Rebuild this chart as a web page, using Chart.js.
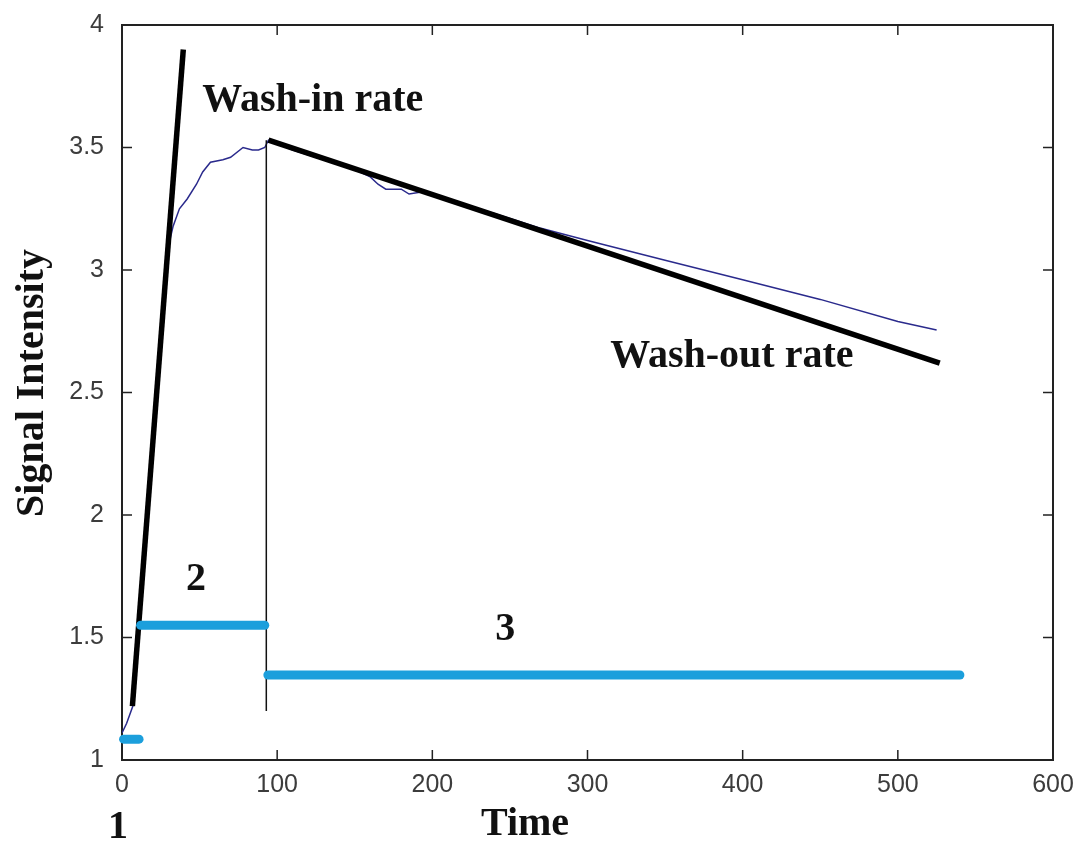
<!DOCTYPE html>
<html>
<head>
<meta charset="utf-8">
<script src="https://cdn.jsdelivr.net/npm/chart.js@4.4.1/dist/chart.umd.min.js"></script>
<style>
  html, body { margin: 0; padding: 0; background: #fff; }
  #wrap { width: 1083px; height: 844px; }
</style>
</head>
<body>
<div id="wrap"><canvas id="chart"></canvas></div>
<script>
// signal curve (time, intensity)
const signalTime = [0, 3, 7, 12, 18, 24, 28, 30, 33, 37, 42, 48, 52, 57, 65, 70, 78, 84, 88, 92, 94.4,
  110, 130, 150, 160, 165, 170, 180, 185, 195, 200, 210, 230, 250, 270, 300, 350, 400, 450, 500, 525];
const signalValue = [1.11, 1.15, 1.22, 1.63, 2.12, 2.61, 3.0, 3.1, 3.18, 3.25, 3.29, 3.35, 3.4, 3.44, 3.45, 3.46, 3.5, 3.49, 3.49, 3.5, 3.53,
  3.49, 3.45, 3.41, 3.38, 3.35, 3.33, 3.33, 3.31, 3.32, 3.31, 3.29, 3.25, 3.21, 3.17, 3.12, 3.04, 2.96, 2.88, 2.79, 2.755];

// fitted rates
const washInTime = [6.7, 39.5];
const washInValue = [1.22, 3.9];
const washOutTime = [94.4, 527];
const washOutValue = [3.53, 2.62];
const peakTime = [93, 93];
const peakValue = [1.2, 3.53];

// phases 1, 2, 3
const phase1Time = [1, 11];
const phase1Value = [1.085, 1.085];
const phase2Time = [12, 92];
const phase2Value = [1.55, 1.55];
const phase3Time = [94, 540];
const phase3Value = [1.347, 1.347];

const xTicks = [0, 100, 200, 300, 400, 500, 600];
const yTicks = [1, 1.5, 2, 2.5, 3, 3.5, 4];

function pts(xs, ys) {
  return xs.map((x, i) => ({ x: x, y: ys[i] }));
}

const serif = "bold 40px 'Liberation Serif', 'Times New Roman', serif";

const framePlugin = {
  id: 'frame',
  beforeDatasetsDraw(chart) {
    const { ctx, chartArea: a, scales } = chart;
    ctx.save();
    ctx.strokeStyle = '#222';
    ctx.lineWidth = 2;
    ctx.strokeRect(a.left, a.top, a.right - a.left, a.bottom - a.top);
    ctx.lineWidth = 1.5;
    ctx.beginPath();
    xTicks.slice(1, -1).forEach(v => {
      const px = scales.x.getPixelForValue(v);
      ctx.moveTo(px, a.bottom); ctx.lineTo(px, a.bottom - 10);
      ctx.moveTo(px, a.top); ctx.lineTo(px, a.top + 10);
    });
    yTicks.slice(1, -1).forEach(v => {
      const py = scales.y.getPixelForValue(v);
      ctx.moveTo(a.left, py); ctx.lineTo(a.left + 10, py);
      ctx.moveTo(a.right, py); ctx.lineTo(a.right - 10, py);
    });
    ctx.stroke();
    ctx.restore();
  },
  afterDraw(chart) {
    const { ctx, scales } = chart;
    const X = v => scales.x.getPixelForValue(v);
    const Y = v => scales.y.getPixelForValue(v);
    ctx.save();
    ctx.fillStyle = '#111';
    ctx.font = serif;
    ctx.textAlign = 'center';
    ctx.textBaseline = 'middle';
    ctx.fillText('Wash-in rate', X(122.9), Y(3.69));
    ctx.fillText('Wash-out rate', X(393), Y(2.645));
    ctx.fillText('2', X(47.7), Y(1.735));
    ctx.fillText('3', X(247), Y(1.53));
    ctx.fillText('1', 118, 828);
    ctx.fillText('Time', 525, 825);
    ctx.translate(33, 383);
    ctx.rotate(-Math.PI / 2);
    ctx.fillText('Signal Intensity', 0, 0);
    ctx.restore();
  }
};

const lineDefaults = { showLine: true, pointRadius: 0, fill: false, tension: 0 };

new Chart(document.getElementById('chart'), {
  type: 'scatter',
  data: {
    datasets: [
      Object.assign({ label: 'Phase 1', data: pts(phase1Time, phase1Value), borderColor: '#1c9fdc', borderWidth: 9, borderCapStyle: 'round', order: 0, clip: false }, lineDefaults),
      Object.assign({ label: 'Phase 2', data: pts(phase2Time, phase2Value), borderColor: '#1c9fdc', borderWidth: 9, borderCapStyle: 'round', order: 0, clip: false }, lineDefaults),
      Object.assign({ label: 'Phase 3', data: pts(phase3Time, phase3Value), borderColor: '#1c9fdc', borderWidth: 9, borderCapStyle: 'round', order: 0, clip: false }, lineDefaults),
      Object.assign({ label: 'Wash-in', data: pts(washInTime, washInValue), borderColor: '#000', borderWidth: 5.5, order: 1 }, lineDefaults),
      Object.assign({ label: 'Wash-out', data: pts(washOutTime, washOutValue), borderColor: '#000', borderWidth: 5.5, order: 1 }, lineDefaults),
      Object.assign({ label: 'Peak', data: pts(peakTime, peakValue), borderColor: '#111', borderWidth: 1.5, order: 1 }, lineDefaults),
      Object.assign({ label: 'Signal', data: pts(signalTime, signalValue), borderColor: '#2a2a8c', borderWidth: 1.5, order: 2 }, lineDefaults)
    ]
  },
  options: {
    responsive: true,
    maintainAspectRatio: false,
    animation: false,
    layout: { padding: { top: 25, right: 30, left: 0, bottom: 0 } },
    plugins: { legend: { display: false }, tooltip: { enabled: false } },
    scales: {
      x: {
        type: 'linear', min: 0, max: 600,
        afterBuildTicks: s => { s.ticks = xTicks.map(v => ({ value: v })); },
        afterFit: s => { s.height = 84; s.paddingLeft = 0; s.paddingRight = 0; },
        grid: { display: false, drawTicks: false },
        border: { display: false },
        ticks: { padding: 10, color: '#3c3c3c', font: { family: "'Liberation Sans', Arial, sans-serif", size: 25 }, callback: v => String(v), maxRotation: 0 }
      },
      y: {
        type: 'linear', min: 1, max: 4,
        afterBuildTicks: s => { s.ticks = yTicks.map(v => ({ value: v })); },
        afterFit: s => { s.width = 122; s.paddingTop = 0; s.paddingBottom = 0; },
        grid: { display: false, drawTicks: false },
        border: { display: false },
        ticks: { padding: 18, color: '#3c3c3c', font: { family: "'Liberation Sans', Arial, sans-serif", size: 25 }, callback: v => String(v) }
      }
    }
  },
  plugins: [framePlugin]
});
</script>
</body>
</html>
